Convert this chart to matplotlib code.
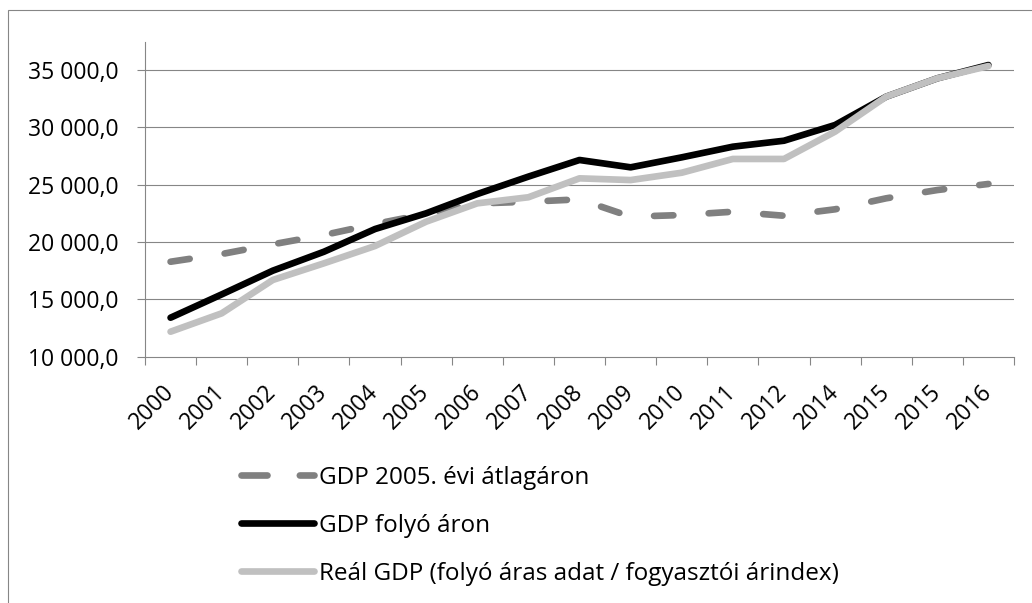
import matplotlib
matplotlib.use("Agg")
import matplotlib.pyplot as plt
from matplotlib.patches import Rectangle
from matplotlib.ticker import FuncFormatter, FixedLocator
from matplotlib.lines import Line2D

# ---- data ----
categories = ['2000', '2001', '2002', '2003', '2004', '2005', '2006', '2007',
              '2008', '2009', '2010', '2011', '2012', '2014', '2015', '2015', '2016']
gdp_2005 = [18280, 18950, 19800, 20610, 21570, 22450, 23360, 23510, 23720,
            22210, 22350, 22640, 22290, 22850, 23810, 24530, 25060]
gdp_current = [13400, 15430, 17500, 19150, 21130, 22500, 24180, 25700, 27150,
               26510, 27380, 28310, 28830, 30200, 32670, 34270, 35430]
real_gdp = [12180, 13780, 16690, 18140, 19650, 21770, 23370, 23900, 25550,
            25400, 26040, 27240, 27240, 29620, 32670, 34270, 35340]
series_labels = ['GDP 2005. évi átlagáron', 'GDP folyó áron',
                 'Reál GDP (folyó áras adat / fogyasztói árindex)']
y_ticks = [10000, 15000, 20000, 25000, 30000, 35000]

plt.rcParams['font.family'] = ['Open Sans', 'DejaVu Sans']
W, H = 1032, 603
fig = plt.figure(figsize=(W / 100, H / 100), dpi=100)
fig.patch.set_facecolor('white')

ax_left, ax_right, ax_bottom_px, ax_top_px = 145, 1014, 356.7, 42
ax = fig.add_axes([ax_left / W, 1 - ax_bottom_px / H,
                   (ax_right - ax_left) / W, (ax_bottom_px - ax_top_px) / H])

grid_c = '#868686'
lw = 4.8
x = list(range(len(categories)))
ax.plot(x, gdp_2005, color='#808080', lw=lw, dashes=(2.9, 5.3),
        solid_capstyle='round', dash_capstyle='round', zorder=3)
ax.plot(x, gdp_current, color='#000000', lw=lw,
        solid_capstyle='round', solid_joinstyle='round', zorder=4)
ax.plot(x, real_gdp, color='#C0C0C0', lw=lw,
        solid_capstyle='round', solid_joinstyle='round', zorder=5)

ax.set_xlim(-0.5, len(categories) - 0.5)
ymin = 10000
ymax = 10000 + (ax_bottom_px - ax_top_px) / 11.47 * 1000
ax.set_ylim(ymin, ymax)

for yv in y_ticks[1:]:
    ax.axhline(yv, color=grid_c, lw=0.8, zorder=1)

ax.set_yticks(y_ticks)
ax.yaxis.set_major_formatter(FuncFormatter(
    lambda v, p: f"{v:,.1f}".replace(',', ' ').replace('.', ',')))
ax.tick_params(axis='y', direction='out', length=5.8, width=0.8, color=grid_c,
               pad=13.5, labelsize=16.5, labelcolor='black')

ax.set_xticks(x)
ax.set_xticklabels(categories, rotation=45, ha='right', va='center',
                   rotation_mode='anchor')
ax.tick_params(axis='x', which='major', length=0, pad=23, labelsize=16.5,
               labelcolor='black')
ax.xaxis.set_minor_locator(FixedLocator([i - 0.5 for i in range(len(categories) + 1)]))
ax.tick_params(axis='x', which='minor', direction='out', length=6, width=0.8,
               color=grid_c)

for s in ['top', 'right']:
    ax.spines[s].set_visible(False)
for s in ['left', 'bottom']:
    ax.spines[s].set_color(grid_c)
    ax.spines[s].set_linewidth(0.8)
ax.set_facecolor('none')

# outer chart border (extends beyond the image on the right and bottom)
fig.patches.append(Rectangle((8 / W, -0.2), 1.2, 1.2 - 10 / H,
                             transform=fig.transFigure, fill=False,
                             edgecolor=grid_c, lw=0.8))

# legend
h1 = Line2D([], [], color='#808080', lw=lw, dashes=(3.9, 4.85),
            dash_capstyle='round', solid_capstyle='round')
h2 = Line2D([], [], color='#000000', lw=lw, solid_capstyle='round')
h3 = Line2D([], [], color='#C0C0C0', lw=lw, solid_capstyle='round')
fig.legend([h1, h2, h3], series_labels, loc='upper left',
           bbox_to_anchor=(240 / W + 0.001, 1 - 466 / H),
           frameon=False, fontsize=17.5, handlelength=3.0,
           handletextpad=0.2, labelspacing=0.98, borderpad=0,
           borderaxespad=0)

fig.savefig('out.png', dpi=100, facecolor='white')
